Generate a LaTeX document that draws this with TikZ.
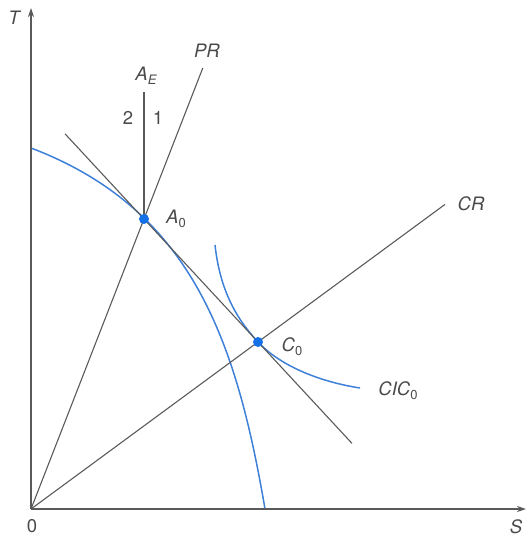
\documentclass[tikz,border=0pt]{standalone}
\usepackage{fontspec}
\setmainfont{TeX Gyre Heros}
\usetikzlibrary{arrows.meta}
\definecolor{lin}{HTML}{5A5A5A}
\definecolor{txt}{HTML}{4A4A4A}
\definecolor{bcurve}{HTML}{3F80D8}
\definecolor{bdot}{HTML}{1470E6}
\newcommand{\lsub}[1]{\raisebox{-0.4ex}{\fontsize{13}{13}\selectfont #1}}
\tikzset{
  axis/.style={draw=lin, line width=1.3pt, -{Stealth[length=9pt,width=6pt]}},
  gline/.style={draw=lin, line width=1.1pt},
  bline/.style={draw=bcurve, line width=1.5pt},
  lbl/.style={text=txt, font=\fontsize{18.5}{21}\selectfont, inner sep=0pt},
  pt/.style={circle, fill=bdot, minimum size=10pt, inner sep=0pt},
}
\begin{document}
\begin{tikzpicture}[x=1pt,y=-1pt]
\useasboundingbox (0,0) rectangle (526,537);
\coordinate (O) at (31,509);
\coordinate (Ytop) at (31,8);
\coordinate (Xend) at (526,509);
\coordinate (A) at (144,219);
\coordinate (C) at (258,342);
\coordinate (Ttop) at (65,133.8);
\coordinate (Tbot) at (352,443.4);
\coordinate (AEtop) at (144,92);
\coordinate (PRend) at (202.8,68);
\coordinate (CRend) at (445,204.4);
\coordinate (PPFtop) at (31,148);
\coordinate (PPFbot) at (265,509);
\coordinate (CICtop) at (215,245);
\coordinate (CICend) at (360,388);
% blue curves
\draw[bline] (PPFtop) .. controls (191,208.8) and (236,339) .. (PPFbot);
\draw[bline] (CICtop) .. controls (220,290) and (236,318.3) .. (C)
                      .. controls (278,363.6) and (315,381) .. (CICend);
% lines
\draw[gline] (Ttop) -- (Tbot);
\draw[gline] (A) -- (AEtop);
\draw[gline] (O) -- (PRend);
\draw[gline] (O) -- (CRend);
% axes
\draw[axis] (O) -- (Ytop);
\draw[axis] (O) -- (Xend);
% points
\node[pt] (A0) at (A) {};
\node[pt] (C0) at (C) {};
% labels
\node[lbl] (T) at (14,18) {\itshape T};
\node[lbl] (S) at (516,527) {\itshape S};
\node[lbl] (zero) at (32,526) {0};
\node[lbl] (AE) at (146,76) {\itshape A\lsub{E}};
\node[lbl] (two) at (128,118) {2};
\node[lbl] (one) at (158,118) {1};
\node[lbl] (PR) at (207,51) {\itshape PR};
\node[lbl] (A0l) at (176,219) {\itshape A\lsub{\upshape 0}};
\node[lbl] (CR) at (471,204) {\itshape CR};
\node[lbl] (C0l) at (292,347) {\itshape C\lsub{\upshape 0}};
\node[lbl] (CICl) at (398,391) {\itshape CIC\lsub{\upshape 0}};
\end{tikzpicture}
\end{document}
